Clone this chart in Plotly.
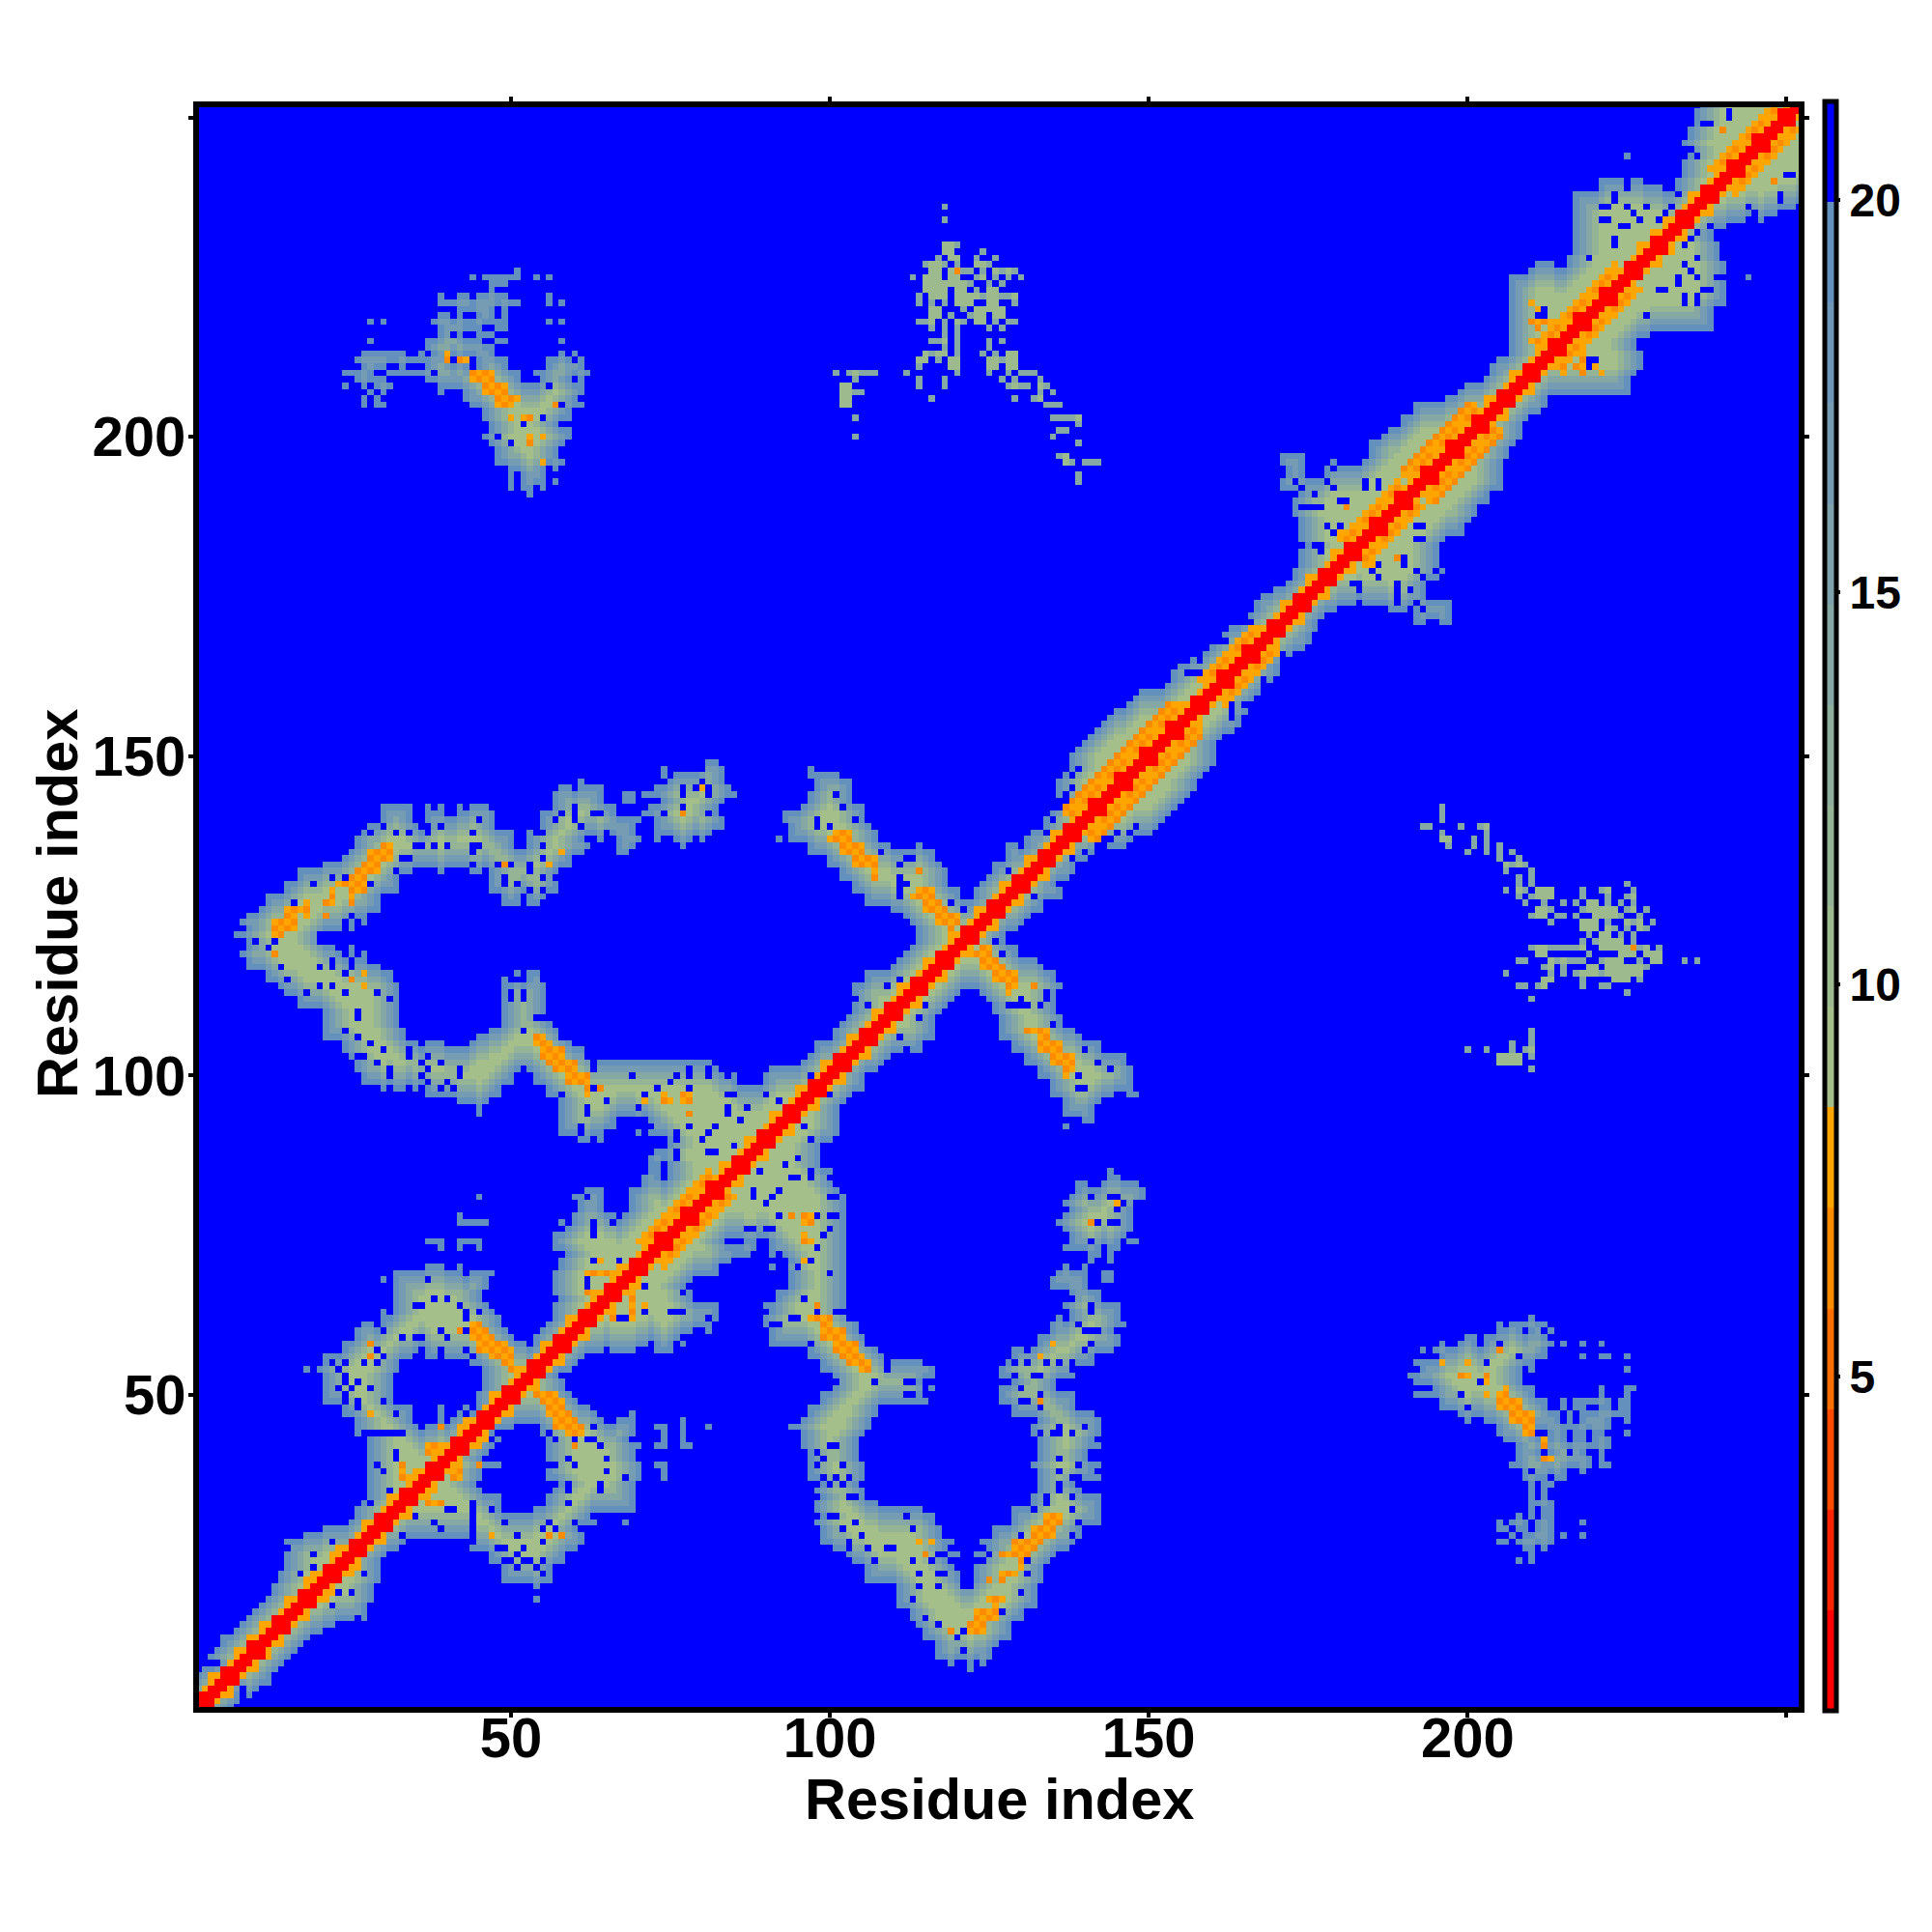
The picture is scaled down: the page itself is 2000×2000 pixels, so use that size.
import numpy as np
import plotly.graph_objects as go

N = 252
TICKS = [50, 100, 150, 200, 250]
TICK_TEXT = ["50", "100", "150", "200", ""]
CBAR_TICKS = [5, 10, 15, 20]
AXIS_TITLE = "Residue index"
ZMIN, ZMAX = 0.74, 21.26
PALETTE = ["#FF0000", "#FF2400", "#FF4A00", "#FF6E00", "#FF8C00", "#FFA500",
           "#A5BF8A", "#9DBA8F", "#95B496", "#8DAE9D", "#85A8A4", "#7DA2AB",
           "#759CB2", "#6D96B9", "#6490BD", "#0000FF"]

# residue spans in each row, right of the diagonal (the map is symmetric)
ROWS = {
1:[(1,6)],2:[(2,7)],3:[(3,7),(9,9)],4:[(4,10)],5:[(5,12)],6:[(6,12)],
7:[(7,13),(122,122)],8:[(8,14),(119,119),(122,122),(124,124)],9:[(9,15),(117,125)],10:[(10,16),(117,125)],
11:[(11,17),(117,126)],12:[(12,18),(115,128)],13:[(13,20),(115,128)],14:[(14,22),(114,128)],
15:[(15,27),(113,130)],16:[(16,27),(113,130)],17:[(17,27),(111,132)],18:[(18,28),(54,54),(111,132)],
19:[(19,28),(111,132)],20:[(20,28),(54,54),(111,132)],21:[(21,29),(49,56),(106,120),(123,133)],
22:[(22,29),(49,56),(106,120),(123,133)],23:[(23,29),(49,56),(106,119),(123,133)],
24:[(24,29),(47,58),(104,118),(124,134)],25:[(25,30),(47,58),(103,120),(123,135)],
26:[(26,32),(44,60),(101,118),(125,137)],27:[(27,33),(44,61),(99,119),(124,138)],
28:[(28,61),(99,117),(126,139)],29:[(29,60),(99,117),(126,139)],30:[(30,63),(68,68),(98,116),(129,142)],
31:[(31,62),(99,116),(129,142)],32:[(32,48),(54,69),(98,114),(129,142)],33:[(33,48),(56,69),(98,107),(132,142)],
34:[(34,48),(56,69),(99,105),(132,142)],35:[(35,45),(57,69),(98,105),(133,139)],
36:[(36,44),(58,69),(99,104),(133,138)],37:[(37,45),(56,70),(74,74),(97,105),(133,142)],
38:[(38,45),(56,70),(74,74),(97,105),(133,141)],39:[(39,48),(56,70),(73,74),(97,105),(132,142)],
40:[(40,45),(56,69),(97,104),(133,140)],41:[(41,46),(56,69),(97,104),(133,140)],
42:[(42,47),(56,70),(73,74),(77,78),(96,104),(133,142)],43:[(43,48),(56,68),(74,74),(77,77),(96,104),(133,141)],
44:[(44,47),(55,69),(74,74),(77,77),(96,105),(132,142)],45:[(45,50),(55,69),(73,74),(77,77),(81,81),(94,106),(132,142)],
46:[(46,64),(67,69),(77,77),(96,106),(133,142)],47:[(47,63),(69,69),(97,107),(129,141)],
48:[(48,62),(97,107),(129,138)],49:[(49,60),(99,115),(127,138)],50:[(50,59),(99,114),(127,138)],
51:[(51,58),(101,116),(127,135)],52:[(52,58),(101,114),(129,135)],53:[(53,57),(101,116),(127,138)],
54:[(54,59),(99,116),(127,138)],55:[(55,60),(99,116),(127,141)],56:[(56,61),(97,108),(129,141)],
57:[(57,64),(66,69),(73,75),(97,107),(129,144)],58:[(58,71),(73,75),(77,77),(91,106),(133,145)],
59:[(59,76),(91,105),(133,145)],60:[(60,78),(81,81),(91,104),(135,144)],61:[(61,81),(90,104),(135,146)],
62:[(62,82),(90,103),(135,136),(138,145)],63:[(63,82),(91,102),(138,145)],64:[(64,82),(90,102),(137,145)],
65:[(65,78),(92,102),(138,142)],66:[(66,78),(92,102),(138,142)],67:[(67,77),(94,102),(135,140)],
68:[(68,78),(94,102),(135,140),(143,144)],69:[(69,82),(94,102),(136,140),(143,144)],
70:[(70,82),(91,102),(137,137),(140,140)],71:[(71,84),(94,102),(141,141),(144,144)],
72:[(72,87),(91,102),(141,142),(144,144)],73:[(73,88),(91,102),(137,142),(144,145)],
74:[(74,83),(87,88),(91,102),(138,145),(147,148)],75:[(75,102),(138,146)],76:[(76,102),(137,147)],
77:[(77,102),(136,147)],78:[(78,102),(137,147)],79:[(79,102),(138,147)],80:[(80,102),(137,148)],
81:[(81,102),(138,149)],82:[(82,101),(139,149)],83:[(83,100),(139,140),(143,148)],84:[(84,100),(144,145)],
85:[(85,100),(144,144)],86:[(86,98)],87:[(87,98)],88:[(88,98)],89:[(89,98)],90:[(90,100)],
91:[(91,101)],92:[(92,101),(137,137)],93:[(93,101),(140,141)],94:[(94,101),(137,141)],95:[(95,101),(137,141)],
96:[(96,102),(137,142)],97:[(97,103),(135,144),(147,148)],98:[(98,105),(135,147)],99:[(99,105),(135,147)],
100:[(100,105),(133,147)],101:[(101,107),(133,147)],102:[(102,108),(131,146)],103:[(103,109),(131,146)],
104:[(104,114),(129,142)],105:[(105,114),(129,142)],106:[(106,116),(127,139)],107:[(107,116),(127,138)],
108:[(108,116),(127,136)],109:[(109,116),(127,136)],110:[(110,117),(126,135)],111:[(111,118),(126,135)],
112:[(112,119),(125,135)],113:[(113,120),(124,135)],114:[(114,136)],115:[(115,135)],116:[(116,135)],
117:[(117,133)],118:[(118,132)],119:[(119,129)],120:[(120,129)],121:[(121,127)],122:[(122,127)],
123:[(123,129)],124:[(124,130)],125:[(125,131)],126:[(126,133)],127:[(127,133)],128:[(128,136)],
129:[(129,136)],130:[(130,135)],131:[(131,137)],132:[(132,138)],133:[(133,138)],134:[(134,140)],
135:[(135,141)],136:[(136,146)],137:[(137,147)],138:[(138,150)],139:[(139,151)],140:[(140,152)],
141:[(141,153)],142:[(142,154)],143:[(143,155)],144:[(144,156)],145:[(145,157)],146:[(146,157)],
147:[(147,158)],148:[(148,159)],149:[(149,160)],150:[(150,160)],151:[(151,160)],152:[(152,160)],
153:[(153,161)],154:[(154,163)],155:[(155,164)],156:[(156,164)],157:[(157,165)],158:[(158,165)],
159:[(159,166)],160:[(160,167)],161:[(161,168)],162:[(162,169)],163:[(163,170)],164:[(164,170)],
165:[(165,171)],166:[(166,172)],167:[(167,174)],168:[(168,175)],169:[(169,175)],170:[(170,176)],
171:[(171,176),(192,193),(196,197)],172:[(172,177),(192,194),(195,197)],173:[(173,179),(188,190),(192,197)],
174:[(174,182),(184,197)],175:[(175,193)],176:[(176,193)],177:[(177,193)],178:[(178,195)],179:[(179,196)],
180:[(180,195)],181:[(181,195)],182:[(182,195)],183:[(183,195)],184:[(184,196)],185:[(185,199)],186:[(186,199)],
187:[(187,200)],188:[(188,201)],189:[(189,201)],190:[(190,203)],191:[(191,203)],192:[(192,205)],193:[(193,205)],
194:[(194,205)],195:[(195,205)],196:[(196,205)],197:[(197,206)],198:[(198,206)],199:[(199,207)],200:[(200,208)],
201:[(201,208)],202:[(202,208)],203:[(203,209)],204:[(204,211)],205:[(205,212)],206:[(206,212)],207:[(207,225)],
208:[(208,225)],209:[(209,225)],210:[(210,226)],211:[(211,227)],212:[(212,227)],213:[(213,227)],214:[(214,226)],
215:[(215,226)],216:[(216,228)],217:[(217,238)],218:[(218,238)],219:[(219,238)],220:[(220,238)],221:[(221,240)],
222:[(222,240)],223:[(223,240)],224:[(224,240)],225:[(225,240),(244,244)],226:[(226,240)],227:[(227,240)],
228:[(228,239)],229:[(229,239)],230:[(230,239)],231:[(231,238)],232:[(232,238)],233:[(233,240)],
234:[(234,243),(246,246)],235:[(235,248)],236:[(236,251)],
}
for _y in range(237, 253):
    ROWS[_y] = [(_y, 252)]

# the two small clusters far from the diagonal, right of it
CLUSTER_LOW = {
62:[(210,210)],61:[(205,205),(207,212)],60:[(205,208),(210,213)],59:[(200,201),(203,212)],
58:[(196,196),(199,201),(203,213),(215,215),(218,218),(221,221)],57:[(193,193),(195,212)],
56:[(196,212),(218,218),(221,222),(225,225)],55:[(192,210)],54:[(193,208),(210,210),(225,225)],
53:[(191,208)],52:[(192,208)],51:[(195,210),(221,221),(225,226)],50:[(192,210),(221,221),(225,225)],
49:[(196,212),(215,215),(217,222),(224,225)],48:[(196,212),(215,215),(217,218),(221,222),(224,225)],
47:[(199,214),(216,216),(218,225)],46:[(200,200),(203,214),(216,216),(218,222),(225,225)],
45:[(205,222)],44:[(205,210),(213,215),(217,218),(220,221),(225,225)],
43:[(206,211),(213,215),(217,218),(220,222)],42:[(208,222)],41:[(208,211),(213,218),(221,221)],
40:[(208,219),(221,221)],39:[(207,219),(221,222)],38:[(209,215),(218,218)],37:[(209,212),(214,215)],
36:[(210,210),(212,213)],35:[(210,210),(212,212)],34:[(210,210),(212,212)],33:[(210,213)],
32:[(210,210),(212,213)],31:[(208,208),(210,210),(212,213)],30:[(205,205),(207,209),(211,213),(218,218)],
29:[(205,206),(208,209),(211,213)],28:[(207,207),(209,213),(215,215),(218,218)],27:[(205,206),(208,213)],
26:[(209,210),(212,212)],25:[(210,210)],24:[(208,208),(210,210)],
}
CLUSTER_HIGH = {
142:[(196,196)],141:[(196,196)],140:[(196,196)],139:[(193,194),(199,199),(202,203)],138:[(196,196),(203,203)],
137:[(196,197),(201,201),(203,203)],136:[(197,197),(201,201),(203,203),(205,205)],
135:[(200,200),(203,203),(205,205),(207,207)],134:[(205,205),(208,208)],133:[(206,209)],132:[(206,206),(210,210)],
131:[(208,208),(210,210)],130:[(208,208),(210,210),(225,225)],
129:[(206,206),(208,209),(211,213),(218,218),(221,222),(226,226)],128:[(208,208),(210,213),(218,218),(222,222),(225,226)],
127:[(209,209),(212,212),(215,215),(217,217),(219,220),(222,222),(224,224),(226,226)],
126:[(211,213),(218,223),(225,226),(228,228)],125:[(210,212),(214,215),(217,217),(220,224),(227,227)],
124:[(213,213),(218,220),(222,222),(225,227),(229,229)],123:[(218,220),(222,223),(225,225),(227,228)],
122:[(219,219),(221,222),(224,224),(226,226)],121:[(218,218),(220,224),(226,226)],
120:[(210,218),(221,228),(230,230)],119:[(211,212),(219,219),(224,226),(228,230)],
118:[(208,209),(213,218),(221,224),(227,227),(229,230),(234,234),(236,236)],
117:[(212,213),(215,215),(219,220),(222,228)],116:[(206,206),(213,213),(215,215),(217,227)],
115:[(212,213),(218,218),(223,225),(227,227)],114:[(208,209),(211,212),(218,218),(221,222)],
113:[(225,225)],112:[(210,210)],107:[(210,210)],106:[(210,210)],105:[(207,207),(210,210)],
104:[(200,200),(203,203),(207,207),(209,210)],103:[(205,208),(210,210)],102:[(205,208)],101:[(210,210)],
}
# runs along the diagonal where the orange stripes are wide: (from, to, widest offset)
HELICES = [(72, 83, 4), (139, 156, 5), (160, 168, 4), (182, 191, 4), (192, 203, 5), (214, 225, 4), (240, 250, 4)]
# orange runs in a row: (y, x from, x to)
ORANGE_RUNS = [
(51,53,54),(50,54,57),(49,55,58),(48,56,58),(47,56,59),(46,57,60),(45,57,61),(44,59,61),(42,60,60),
(62,97,100),(61,99,100),(60,99,102),(59,99,102),(58,101,104),(57,101,104),(56,102,105),(55,103,106),(54,105,106),
(31,134,136),(30,134,136),(29,132,135),(28,132,135),(27,129,133),(26,129,132),(25,127,131),(24,130,130),(23,130,130),
(22,127,129),(21,125,125),(21,127,127),(18,125,127),(17,126,126),(16,123,126),(15,123,126),(14,122,124),(13,122,124),(13,119,119),
(120,124,125),(119,122,125),(118,124,126),(117,124,127),(116,126,129),(115,126,129),(114,128,129),(114,132,132),(113,128,128),
(107,131,134),(106,133,134),(105,133,136),(104,133,136),(103,135,138),(102,135,138),(101,137,138),(100,137,137),
(78,94,94),(78,96,97),(77,96,97),(75,96,96),(74,96,97),(71,96,96),(64,98,98),(27,114,114),(27,116,116),(25,115,115),
(80,145,145),(77,141,141),(58,135,135),(56,133,133),(49,133,133),(120,226,226),
(71,64,64),(69,62,65),(68,66,66),(66,62,63),(65,63,63),(66,68,69),(64,69,69),(63,69,69),(62,69,69),(64,71,71),(63,65,66),
(28,56,56),(28,58,58),(28,47,47),(33,39,39),(33,37,38),(39,42,42),(38,41,42),(37,41,42),(39,45,45),(42,45,45),(45,42,42),(45,39,39),
(42,37,39),(41,37,39),(40,38,38),(39,33,33),(37,33,34),(36,34,34),(58,28,28),(56,28,28),(47,28,28),(25,22,22),(22,25,25),(22,19,19),(21,18,18),(19,21,21),(12,9,9),(10,8,8),
(57,205,205),(55,196,196),(55,200,200),(53,199,200),(53,203,203),(52,203,203),(51,206,206),(50,203,203),(50,205,206),
(49,205,208),(48,205,208),(47,207,210),(46,207,210),(45,209,210),(44,209,210),(43,212,212),(42,212,212),(40,212,213),
(218,210,213),(215,210,213),(212,214,215),(211,217,217),(211,220,220),(221,210,210),(244,240,240),(240,244,244),(248,240,240),(240,248,248),(232,229,229),(230,232,232),(181,185,185),(181,189,189),(189,181,181),(185,180,180),
]
# blue cells inside the shaded areas: (x, y)
HOLES = [
(85,89),(81,88),(82,88),(95,87),(93,86),(89,85),(80,84),(81,84),(94,84),(95,84),(97,84),(97,85),(100,84),(92,82),(88,81),(88,82),(91,81),(84,81),(90,80),(100,81),(101,81),
(92,78),(98,78),(100,78),(101,78),(90,76),(91,76),(87,76),(88,76),(100,76),(99,75),(98,73),(92,72),(93,71),(92,71),(91,71),(92,70),(93,70),(97,71),(95,70),(100,69),(96,65),(98,63),(101,63),(102,63),(94,62),(95,62),(81,62),(76,63),(77,63),(77,66),(103,62),(92,61),(91,61),(106,58),(97,58),(109,54),(109,55),(115,55),(116,55),(107,52),(101,52),(112,52),(113,52),(112,50),(113,50),(115,51),
(100,42),(101,42),(98,41),(99,40),(98,39),(102,39),(99,37),(101,37),(103,37),(100,36),(102,36),(103,34),(104,34),(100,31),(101,31),(104,30),(102,29),(105,28),(103,26),(103,27),(106,26),(109,26),(110,26),(107,24),(112,31),(113,29),(113,24),(114,22),(116,24),(117,25),(118,25),(117,22),(118,22),(114,20),(117,20),(121,20),(122,20),(113,18),(115,15),(117,14),(120,12),(121,10),(121,13),(127,16),(130,19),(131,22),(131,24),(130,28),(125,25),(124,24),(138,28),(139,30),(138,32),(132,32),(134,34),(134,33),(136,35),(136,36),(138,34),(138,37),(139,37),(139,39),(142,38),(136,40),(136,38),(138,44),(133,44),(135,44),(136,44),(140,45),(136,45),(133,50),(133,48),(130,49),(131,49),(130,51),(132,53),(133,53),(129,53),(127,55),(129,55),(131,55),(134,55),(136,55),(138,55),(138,54),(139,61),(140,60),(141,60),(142,60),(141,58),(140,57),(131,57),(141,64),(141,63),(138,65),(135,62),
(141,81),(144,81),(145,81),(145,79),(148,80),(146,80),(142,77),(144,77),(145,77),(141,74),
(63,71),(67,71),(62,68),(71,67),(71,63),(75,63),(67,62),(68,62),(56,44),(57,43),(60,43),(62,43),(63,43),(64,42),(63,45),(59,40),(65,40),(56,39),(57,39),(60,39),(65,38),(68,37),(64,36),(64,35),(59,35),(59,36),(59,33),(56,30),(60,30),(57,29),(55,29),(55,27),(52,26),(48,26),(49,26),(44,27),(51,28),(49,30),(47,32),(44,33),(44,32),(44,31),(44,30),(44,29),(44,28),(40,32),(41,32),(38,30),(39,29),(33,28),(35,31),(49,24),(50,24),(52,24),(53,24),(51,25),(51,23),(54,23),(55,24),(55,22),(27,22),(23,21),(23,19),(25,19),(22,17),(21,13),(26,15),(8,3),(8,4),(47,43),
(139,148),(138,147),(138,145),(139,144),(137,143),(137,142),(136,142),(136,143),(135,140),(134,138),(101,144),(102,142),(104,140),(98,140),(98,139),(100,139),(108,135),(112,134),(113,134),(111,133),(111,131),(111,130),(111,129),(111,128),(112,130),(119,127),(121,126),
(144,139),(145,138),(147,138),(148,139),(144,137),(142,136),(143,136),(140,135),(138,134),(132,128),(126,121),(127,119),(111,115),(109,114),(106,111),(115,111),(114,109),(111,106),(112,104),(134,113),(134,112),(130,112),(128,111),(129,111),(130,111),(131,111),(133,111),(135,108),(140,104),(142,102),(144,101),(139,100),(139,98),(140,98),(97,100),(95,98),(90,97),(92,96),(100,97),(98,95),(96,92),(97,90),(95,87),(93,86),(89,85),
(205,58),(209,60),(212,60),(208,56),(203,55),(202,52),(199,50),(200,48),(212,41),(216,41),(210,38),(213,37),
(212,220),(235,245),(237,249),(241,251),(247,251),(250,247),(250,241),(249,238),(244,236),(223,237),(221,236),(225,236),(228,236),(226,235),(221,234),(224,233),(223,231),(219,228),(238,233),(235,231),(234,230),(236,228),(234,227),(236,225),(233,225),(239,225),(240,225),(238,223),(234,222),(236,222),(230,223),(228,219),(219,212),(219,211),(232,236),(233,238),
(192,190),(192,189),(190,194),(189,193),(180,190),(176,189),(174,189),(176,191),(173,193),(178,193),(184,193),(186,193),(178,196),(178,186),(180,186),(179,185),(176,183),(192,186),(192,184),(190,181),(185,179),(192,179),(195,179),(182,177),(183,177),(186,178),(189,177),(191,176),(189,175),(192,174),(168,162),(168,161),(169,165),(171,165),(163,158),(163,157),(163,156),(165,158),(158,155),(154,158),(156,163),(156,165),(158,165),(165,171),(166,171),(161,168),
]

LIGHT_ORANGE, DARK_ORANGE, RED = 7.8, 6.5, 1.4
EDGE_VALUES = [19.0, 17.0, 14.5, 12.0, 9.5]
THIN_VALUES = [14.0, 10.5]
BLUE = 21.0

mask = np.zeros((N, N), bool)
for y, spans in ROWS.items():
    for a, b in spans:
        mask[y-1, a-1:b] = True
        mask[a-1:b, y-1] = True
low = np.zeros((N, N), bool)
for y, spans in CLUSTER_LOW.items():
    for a, b in spans:
        low[y-1, a-1:b] = True
        low[a-1:b, y-1] = True
thin = np.zeros((N, N), bool)
for y, spans in CLUSTER_HIGH.items():
    for a, b in spans:
        thin[y-1, a-1:b] = True
        thin[a-1:b, y-1] = True
mask |= low

z = np.full((N, N), BLUE)
eroded = mask.copy()
for v in EDGE_VALUES:
    z[eroded] = v
    p = np.pad(eroded, 1, constant_values=True)
    eroded = p[1:-1, 1:-1] & p[:-2, 1:-1] & p[2:, 1:-1] & p[1:-1, :-2] & p[1:-1, 2:]
eroded = thin.copy()
for v in THIN_VALUES:
    z[eroded] = v
    p = np.pad(eroded, 1, constant_values=False)
    eroded = p[1:-1, 1:-1] & (p[:-2, 1:-1] | p[2:, 1:-1]) & (p[1:-1, :-2] | p[1:-1, 2:])

for x, y in HOLES:
    z[y-1, x-1] = BLUE
    z[x-1, y-1] = BLUE
for y, a, b in ORANGE_RUNS:
    for x in range(a, b+1):
        v = DARK_ORANGE if (x+y) % 2 == 0 else LIGHT_ORANGE
        z[y-1, x-1] = v
        z[x-1, y-1] = v
for c1, c2, dmax in HELICES:
    for i in range(N):
        for d in range(3, dmax+1):
            j = i + d
            if j < N and c1 <= (i+j+2)/2 <= c2:
                v = DARK_ORANGE if d % 2 else LIGHT_ORANGE
                z[i, j] = v
                z[j, i] = v
for i in range(N):
    for d in range(0, 4):
        if i + d >= N:
            continue
        if d < 2:
            v = RED
        elif d == 2:
            v = RED if i % 4 == 0 else LIGHT_ORANGE
        elif i % 4 == 2:
            v = LIGHT_ORANGE
        else:
            continue
        z[i, i+d] = v
        z[i+d, i] = v

scale = []
for k, col in enumerate(PALETTE):
    scale += [[k/len(PALETTE), col], [(k+1)/len(PALETTE), col]]

fig = go.Figure(go.Heatmap(
    z=z, x=list(range(1, N+1)), y=list(range(1, N+1)), zmin=ZMIN, zmax=ZMAX, colorscale=scale,
    hoverinfo="skip",
    colorbar=dict(x=1881/2000, xanchor="left", xpad=0, ypad=0, y=1-930/2000, yanchor="middle",
                  lenmode="pixels", len=1666, thicknessmode="pixels", thickness=12,
                  outlinewidth=5, outlinecolor="black", tickvals=CBAR_TICKS, ticks="outside",
                  ticklen=2, tickwidth=4, tickcolor="black",
                  tickfont=dict(family="Liberation Sans", size=48, color="black", weight="bold")),
))
font = dict(family="Liberation Sans", size=58, color="black", weight="bold")
title_font = dict(family="Liberation Sans", size=59.5, color="black", weight="bold")
ax = dict(tickvals=TICKS, ticktext=TICK_TEXT, ticks="outside", ticklen=5, tickwidth=4,
          tickcolor="black", showline=True, linewidth=6, linecolor="black", mirror="allticks",
          showgrid=False, zeroline=False, tickfont=font)
fig.update_layout(
    width=2000, height=2000, margin=dict(l=0, r=0, t=0, b=0), paper_bgcolor="white", plot_bgcolor="white",
    xaxis=dict(domain=[198/2000, 1854/2000], range=[1.1, 251.9], ticklabelstandoff=-29, **ax),
    yaxis=dict(domain=[1-1759/2000, 1-103/2000], range=[1.1, 251.6], ticklabelstandoff=-9, **ax),
    annotations=[
        dict(text=AXIS_TITLE, x=1026/2000, y=1-1854/2000, xref="paper", yref="paper", showarrow=False,
             xanchor="center", yanchor="middle", font=title_font),
        dict(text=AXIS_TITLE, x=52/2000, y=1-928/2000, xref="paper", yref="paper", showarrow=False,
             textangle=-90, xanchor="center", yanchor="middle", font=title_font),
    ],
)
fig.write_html("out.html")
